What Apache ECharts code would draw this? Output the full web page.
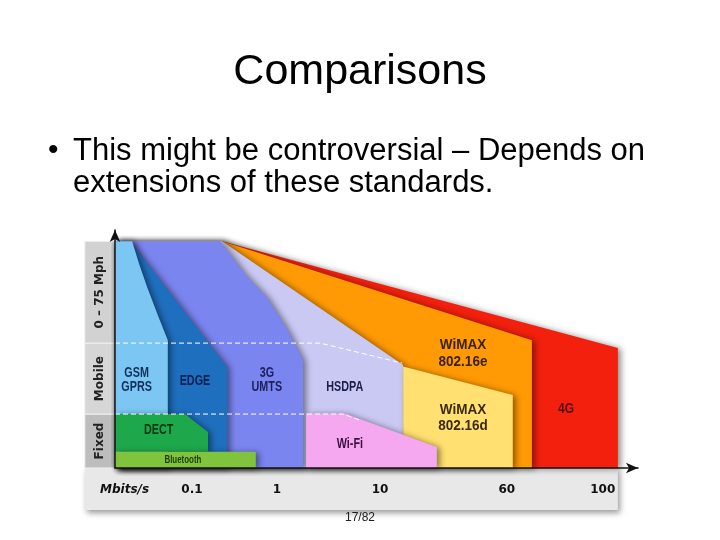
<!DOCTYPE html>
<html>
<head>
<meta charset="utf-8">
<script src="https://cdn.jsdelivr.net/npm/echarts@6/dist/echarts.min.js"></script>
<style>html,body{margin:0;padding:0;background:#fff}#c{width:720px;height:540px}</style>
</head>
<body>
<div id="c"></div>
<script>
// ---- data ----
const bandNames = ['Fixed', 'Mobile', '0 – 75 Mph'];
const bandEdges = [0, 23.8, 55.1, 100];
const speedLabels = ['Mbits/s', '0.1', '1', '10', '60', '100'];
const speedLabelPos = [1.9, 15.3, 32.2, 52.7, 77.9, 97.0];

const techNames = ['4G', 'WiMAX\n802.16e', 'HSDPA', '3G\nUMTS', 'EDGE', 'GSM\nGPRS', 'WiMAX\n802.16d', 'Wi-Fi', 'DECT', 'Bluetooth'];
const area4G      = [[0,0],[0,100],[21.3,100],[100,52.9],[100,0]];
const areaWimaxE  = [[0,0],[0,100],[21.3,100],[82.9,56.4],[82.9,0]];
const areaHSDPA   = [[0,0],[0,100],[21.3,100],[57.3,45.4],[57.3,0]];
const areaUMTS    = [[0,0],[0,100],[20.9,100],[26,85],[30.2,75.3],[34,62],[37.4,47.6],[37.4,0]];
const areaEDGE    = [[0,0],[0,100],[3.0,100],[22.3,44.5],[22.3,0]];
const areaGSM     = [[0,0],[0,100],[3.4,100],[4.8,90],[6.4,79.7],[8.6,67],[10.5,56.4],[10.5,0]];
const areaWimaxD  = [[57.3,0],[57.3,44.8],[79.1,32.2],[79.1,0]];
const areaWiFi    = [[38.0,0],[38.0,24.0],[45.7,24.0],[64.0,9.3],[64.0,0]];
const areaDECT    = [[0,7.2],[0,23.8],[13.9,23.8],[18.5,15.9],[18.5,7.2]];
const areaBT      = [[0,0],[0,7.2],[28.0,7.2],[28.0,0]];
const techAreas = [area4G, areaWimaxE, areaHSDPA, areaUMTS, areaEDGE, areaGSM, areaWimaxD, areaWiFi, areaDECT, areaBT];
const techLabelPos = [[89.7,26.0],[69.2,50.4],[45.7,36.0],[30.2,38.8],[15.9,38.3],[4.3,38.8],[69.2,22.0],[46.7,10.6],[8.7,16.7],[13.5,3.4]];

const dashUpper = [[0,55.1],[40.8,55.1],[57.1,46.3]];
const dashLower = [[0,23.8],[45.3,23.8],[48.7,21.1]];

// ---- styles ----
const techColors = ['#f2200c','#ff9a05','#c9c9f4','#7b85f0','#1f6fbf','#7cc6f4','#ffe070','#f5a8f0','#1ea84c','#80c43e'];
const techText = ['#5a0a05','#3a2208','#1b1f4a','#1b1f5a','#0d2050','#10305a','#3a2a10','#3a1040','#0b3a15','#1e3a08'];
const techFontSize = [15, 15, 15, 15, 15, 15, 15, 15, 15, 11];
const techScaleX = [0.8, 0.9, 0.72, 0.72, 0.72, 0.72, 0.9, 0.72, 0.72, 0.72];
const techLineH = [14, 17, 14, 14, 14, 14, 16, 14, 14, 12];
const bodyFont = "'Liberation Sans',Arial,sans-serif";

const chart = echarts.init(document.getElementById('c'), null, {renderer:'canvas'});

const option = {
  backgroundColor: '#fff',
  animation: false,
  title: {
    text: 'Comparisons', left: 'center', top: 46,
    textStyle: {fontFamily: bodyFont, fontSize: 43, fontWeight: 'normal', color: '#000'}
  },
  grid: {left: 115, right: 82, top: 230, bottom: 72},
  xAxis: {
    type: 'value', min: 0, max: 104, z: 10,
    axisLine: {show: true, onZero: false, symbol: ['none','arrow'], symbolSize: [8,12], lineStyle: {color: '#111', width: 1.5}},
    axisTick: {show: false}, axisLabel: {show: false}, splitLine: {show: false}
  },
  yAxis: {
    type: 'value', min: 0, max: 105, z: 10,
    axisLine: {show: true, onZero: false, symbol: ['none','arrow'], symbolSize: [8,12], lineStyle: {color: '#111', width: 1.5}},
    axisTick: {show: false}, axisLabel: {show: false}, splitLine: {show: false}
  },
  graphic: [
    {type:'text', left: 48, top: 136, style:{text:'•', font:"30px " + bodyFont, fill:'#000'}},
    {type:'text', left: 73, top: 136, style:{text:'This might be controversial – Depends on', font:"31px " + bodyFont, fill:'#000'}},
    {type:'text', left: 73, top: 168, style:{text:'extensions of these standards.', font:"31px " + bodyFont, fill:'#000'}},
    {type:'text', left: 'center', top: 512, style:{text:'17/82', font:"12px " + bodyFont, fill:'#222'}}
  ],
  series: [
    { // bottom strip
      type: 'custom', z: 1, clip: false,
      data: [[0]],
      renderItem: (params, api) => {
        const a = api.coord([-6, 0]);
        const b = api.coord([100, -18.5]);
        return {type:'rect', shape:{x:a[0], y:a[1], width:b[0]-a[0], height:b[1]-a[1]},
          style:{fill:'#e8e8e8', shadowBlur:6, shadowOffsetX:2, shadowOffsetY:3, shadowColor:'rgba(0,0,0,0.4)'}};
      }
    },
    { // band column
      type: 'custom', z: 1, clip: false,
      data: bandNames.map((n, i) => [i]),
      renderItem: (params, api) => {
        const i = api.value(0);
        const a = api.coord([-6, bandEdges[i+1]]);
        const b = api.coord([0, bandEdges[i]]);
        const fills = ['#bdbdbd','#d6d6d6','#d2d2d2'];
        return {type:'group', children:[
          {type:'rect', shape:{x:a[0], y:a[1], width:b[0]-a[0], height:b[1]-a[1]}, style:{fill:fills[i], stroke:'#f0f0f0', lineWidth:1}},
          {type:'text', x:(a[0]+b[0])/2, y:(a[1]+b[1])/2, rotation: Math.PI/2,
            style:{text:bandNames[i], fill:'#222', font:"bold 12px 'DejaVu Sans',sans-serif", align:'center', verticalAlign:'middle'}}
        ]};
      }
    },
    { // technology areas
      type: 'custom', z: 2, clip: false,
      data: techNames.map((n, i) => [i]),
      renderItem: (params, api) => {
        const i = api.value(0);
        const pts = techAreas[i].map(p => api.coord(p));
        return {type:'polygon', shape:{points:pts},
          style:{fill:techColors[i], shadowBlur:6, shadowOffsetX:3, shadowOffsetY:1, shadowColor:'rgba(0,0,0,0.45)'}};
      }
    },
    { // dashed band separators
      type: 'custom', z: 3, clip: false,
      data: [[0],[1]],
      renderItem: (params, api) => {
        const line = api.value(0) === 0 ? dashUpper : dashLower;
        return {type:'polyline', shape:{points: line.map(p => api.coord(p))},
          style:{stroke:'#ffffff', lineWidth:1, lineDash:[5,3], fill:null}};
      }
    },
    { // technology labels (condensed look via horizontal scaling)
      type: 'custom', z: 4, clip: false, silent: true,
      data: techNames.map((n, i) => [i]),
      renderItem: (params, api) => {
        const i = api.value(0);
        const p = api.coord(techLabelPos[i]);
        return {type:'text', x:p[0], y:p[1], scaleX: techScaleX[i],
          style:{text: techNames[i], fill: techText[i], align:'center', verticalAlign:'middle',
            font: 'bold ' + techFontSize[i] + 'px ' + bodyFont, lineHeight: techLineH[i]}};
      }
    },
    { // speed tick labels
      type: 'custom', z: 4, clip: false, silent: true,
      data: speedLabels.map((s, i) => [i]),
      renderItem: (params, api) => {
        const i = api.value(0);
        const p = api.coord([speedLabelPos[i], -9.5]);
        return {type:'text', x:p[0], y:p[1],
          style:{text: speedLabels[i], fill:'#111', align:'center', verticalAlign:'middle',
            font: (i === 0 ? 'italic ' : '') + "bold 12px 'DejaVu Sans',sans-serif"}};
      }
    }
  ]
};
chart.setOption(option);
</script>
</body>
</html>
